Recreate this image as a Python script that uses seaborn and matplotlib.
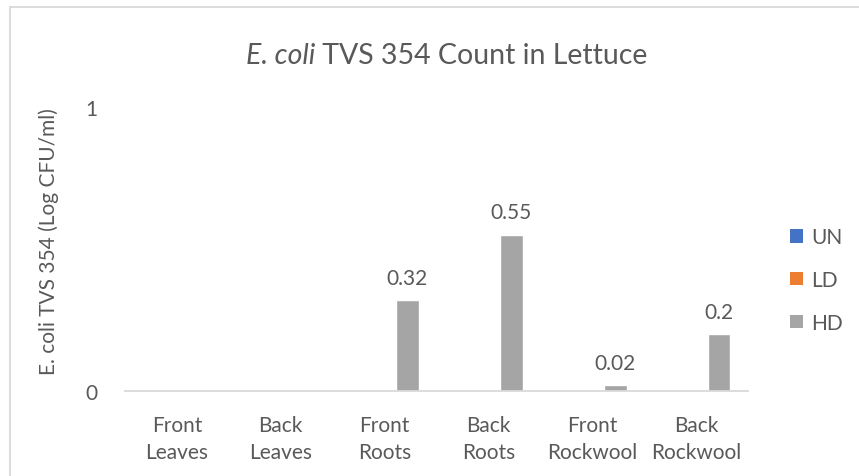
import numpy as np
import pandas as pd
import matplotlib
matplotlib.use("Agg")
import matplotlib.pyplot as plt
import seaborn as sns
from matplotlib.patches import Rectangle, Patch

categories = ["Front\nLeaves", "Back\nLeaves", "Front\nRoots", "Back\nRoots",
              "Front\nRockwool", "Back\nRockwool"]
series = ["UN", "LD", "HD"]
un_values = [0, 0, 0, 0, 0, 0]
ld_values = [0, 0, 0, 0, 0, 0]
hd_values = [np.nan, np.nan, 0.32, 0.55, 0.02, 0.2]
colors = ["#4472C4", "#ED7D31", "#A5A5A5"]

df = pd.DataFrame({
    "category": categories * 3,
    "series": [s for s in series for _ in categories],
    "value": un_values + ld_values + hd_values,
})

sns.set_theme(style="white")
plt.rcParams["font.family"] = ["Lato", "DejaVu Sans"]
text_color = "#595959"
fs = 15

W, H = 859, 477
fig = plt.figure(figsize=(W / 100, H / 100), dpi=100)
ax = fig.add_axes([125 / W, 1 - 392 / H, (748 - 125) / W, (392 - 108) / H])

sns.barplot(data=df, x="category", y="value", hue="series", hue_order=series,
            palette=colors, order=categories, width=0.66, gap=0,
            saturation=1, errorbar=None, legend=False, ax=ax)

# value labels on the HD bars
for bar in ax.containers[2]:
    if bar is None or np.isnan(bar.get_height()):
        continue
    h = bar.get_height()
    ax.annotate(f"{h:g}", (bar.get_x() + bar.get_width() / 2, h),
                xytext=(0, 9), textcoords="offset points", ha="center",
                va="bottom", fontsize=fs, color=text_color)

ax.set_ylim(0, 1)
ax.set_xlim(-0.5, len(categories) - 0.5)
ax.set_yticks([0, 1])
ax.set_yticklabels(["0", "1"])
ax.tick_params(axis="y", length=0, pad=20, labelsize=fs, labelcolor=text_color)
ax.tick_params(axis="x", length=0, pad=17, labelsize=fs, labelcolor=text_color)
for lbl in ax.get_xticklabels():
    lbl.set_linespacing(1.45)
ax.set_xlabel("")
ax.set_ylabel("")
for side in ["left", "right", "top"]:
    ax.spines[side].set_visible(False)
ax.spines["bottom"].set_color("#D9D9D9")
ax.spines["bottom"].set_linewidth(1.3)

# y-axis title
fig.text(49 / W, 1 - 242 / H, "E. coli TVS 354 (Log CFU/ml)", rotation=90,
         ha="center", va="center", fontsize=fs, color=text_color)

# legend on the right
handles = [Patch(facecolor=c, edgecolor="none") for c in colors]
fig.legend(handles, series, loc="center left", bbox_to_anchor=(790 / W, 1 - 281 / H),
           frameon=False, fontsize=fs, labelcolor=text_color, handlelength=0.62,
           handleheight=0.62, handletextpad=0.4, labelspacing=1.1,
           borderaxespad=0, borderpad=0)

# title with italic species name
title_y = 1 - 56 / H
fig.canvas.draw()
renderer = fig.canvas.get_renderer()
part1 = fig.text(0, title_y, "E. coli", fontsize=20.5, style="italic",
                 color=text_color, va="center")
part2 = fig.text(0, title_y, " TVS 354 Count in Lettuce", fontsize=20.5,
                 color=text_color, va="center")
w1 = part1.get_window_extent(renderer).width
w2 = part2.get_window_extent(renderer).width
start = 447 - (w1 + w2) / 2
part1.set_x(start / W)
part2.set_x((start + w1) / W)

# chart area frame
fig.patches.append(Rectangle((10 / W, -0.1), 1.2, 1 - 8 / H + 0.1,
                             transform=fig.transFigure, fill=False,
                             edgecolor="#D9D9D9", linewidth=1.3))

fig.savefig("out.png", dpi=100, facecolor="white")
